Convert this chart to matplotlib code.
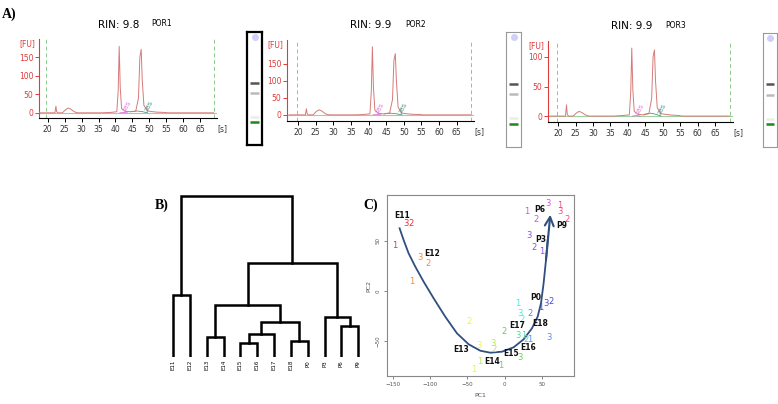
import matplotlib.pyplot as plt
import numpy as np

plt.rcParams['font.family'] = ['DejaVu Sans']

W, H = 778, 404

# ===== A) electropherograms =====
samples = ['POR1', 'POR2', 'POR3']
rin_values = ['9.8', '9.9', '9.9']
fu_ticks = [[0, 50, 100, 150], [0, 50, 100, 150], [0, 50, 100]]
time_ticks = [20, 25, 30, 35, 40, 45, 50, 55, 60, 65]

trace_time = [17.5, 22.1, 22.4, 22.6, 22.9, 24.3, 25.2, 26.0, 26.8, 27.8, 28.8,
              36.0, 38.5, 40.4, 40.8, 41.1, 41.4, 41.8, 42.8, 44.5, 46.0,
              46.8, 47.2, 47.6, 47.9, 48.4, 49.5, 52.0, 54.5, 55.5, 69.0]
trace_por1 = [0, 0, 18, 4, 0, 0, 8, 13, 10, 3, 0,
              0, 1, 3, 60, 180, 70, 12, 4, 3, 5,
              40, 150, 172, 90, 20, 5, 2, 1, 0, 0]
trace_por2 = [0, 0, 18, 4, 0, 0, 10, 15, 11, 3, 0,
              0, 1, 3, 70, 200, 80, 14, 4, 3, 6,
              45, 160, 180, 100, 22, 5, 2, 1, 0, 0]
trace_por3 = [0, 0, 19, 4, 0, 0, 5, 8, 6, 2, 0,
              0, 1, 2, 40, 115, 45, 8, 3, 2, 4,
              30, 100, 112, 60, 14, 4, 2, 1, 0, 0]
traces = [trace_por1, trace_por2, trace_por3]

# axes boxes in pixels: left, right, top, bottom, plus limits
ep_boxes = [(39, 217, 39, 118), (287, 474, 40, 121), (548, 733, 41, 122)]
ep_xlim = [(17.4, 70.0), (16.9, 69.9), (17.1, 70.1)]
ep_ylim = [(-14, 200), (-18, 220), (-10, 127)]

gel_boxes = [(247, 262, 32, 145), (506, 521, 32, 147), (763, 777, 33, 147)]
gel_band_pos = [0.45, 0.54, 0.75, 0.80]
gel_band_colors = ['#555555', '#bbbbbb', '#ececec', '#1a8a1a']

red = '#e03a3a'
trace_col = '#d77a78'

fig = plt.figure(figsize=(W / 100, H / 100), dpi=100)


def fbox(l, r, t, b):
    return [l / W, 1 - b / H, (r - l) / W, (b - t) / H]


for i in range(3):
    l, r, t, b = ep_boxes[i]
    ax = fig.add_axes(fbox(l, r, t, b))
    ax.set_xlim(ep_xlim[i])
    ax.set_ylim(ep_ylim[i])
    ax.axhline(0, color='#9fd09f', lw=0.8, zorder=1)
    ax.axvline(19.6, color='#8cc88c', lw=0.7, ls=(0, (4, 3)))
    ax.axvline(69.1, color='#8cc88c', lw=0.7, ls=(0, (4, 3)))
    ax.plot(trace_time, traces[i], color=trace_col, lw=0.7, zorder=3)
    # small marker lines near the ribosomal peaks
    ax.plot([44.5, 46.5, 48.0, 49.5], [3, 5, 3, 0], color='#3c7f70', lw=0.5)
    ax.plot([41.3, 42.5, 43.5], [0, 1, 0], color='#e070e0', lw=0.6)
    ax.text(43.3, 1, '18S', color='#e070e0', fontsize=4.5, rotation=60,
            ha='center', va='bottom')
    ax.text(49.8, 1, '28S', color='#3c8f80', fontsize=4.5, rotation=60,
            ha='center', va='bottom')
    ax.spines['top'].set_visible(False)
    ax.spines['right'].set_visible(False)
    ax.spines['left'].set_color(red)
    ax.spines['left'].set_linewidth(0.8)
    ax.spines['bottom'].set_linewidth(0.8)
    ax.set_xticks(time_ticks)
    ax.set_yticks(fu_ticks[i])
    ax.tick_params(axis='y', colors=red, labelsize=5.5, length=3, width=0.7, pad=1)
    ax.tick_params(axis='x', labelsize=5.5, length=3, width=0.7, pad=2,
                   labelcolor='#333333')
    ax.text(-0.02, 1.0, '[FU]', transform=ax.transAxes, color=red, fontsize=5.5,
            ha='right', va='top')
    ax.text(1.0, -0.13, '[s]', transform=ax.transAxes, fontsize=5.5,
            color='#333333', ha='left', va='center')
    ax.text(0.45, 1.12, 'RIN: ' + rin_values[i], transform=ax.transAxes,
            fontsize=7.5, ha='center', va='bottom')
    ax.text(0.69, 1.14, samples[i], transform=ax.transAxes, fontsize=5.5,
            ha='center', va='bottom')

    # gel image strip
    gl, gr, gt, gb = gel_boxes[i]
    gax = fig.add_axes(fbox(gl, gr, gt, gb))
    gax.set_xlim(0, 1)
    gax.set_ylim(1, 0)
    gax.set_xticks([])
    gax.set_yticks([])
    for s in gax.spines.values():
        if i == 0:
            s.set_linewidth(1.6)
            s.set_color('black')
        else:
            s.set_linewidth(0.8)
            s.set_color('#999999')
    gax.plot([0.5], [0.045], 'o', color='#cfcff8', ms=4)
    for pos, col in zip(gel_band_pos, gel_band_colors):
        gax.plot([0.22, 0.78], [pos, pos], color=col, lw=1.8,
                 solid_capstyle='butt')

fig.text(2 / W, 1 - 14 / H, 'A)', fontsize=10, fontweight='bold',
         family='Liberation Serif', va='center')

# ===== B) dendrogram =====
leaf_names = ['E11', 'E12', 'E13', 'E14', 'E15', 'E16', 'E17', 'E18',
              'P0', 'P3', 'P6', 'P9']
# merges: (child a, child b, height); new clusters numbered from 12
merges = [(4, 5, 14), (12, 6, 23), (7, 8, 16), (13, 14, 35), (2, 3, 20),
          (16, 15, 52), (10, 11, 31), (9, 18, 40), (17, 19, 94),
          (0, 1, 62), (21, 20, 161)]

dax = fig.add_axes(fbox(164.6, 366.6, 192, 357))
dax.set_xlim(-0.5, 11.5)
dax.set_ylim(0, 165)
dax.axis('off')
pos_x = {k: float(k) for k in range(len(leaf_names))}
pos_h = {k: 0.0 for k in range(len(leaf_names))}
for n, (a, b, h) in enumerate(merges):
    cid = len(leaf_names) + n
    xa, xb = pos_x[a], pos_x[b]
    dax.plot([xa, xa, xb, xb], [pos_h[a], h, h, pos_h[b]], color='black',
             lw=1.8, solid_joinstyle='miter')
    pos_x[cid] = (xa + xb) / 2
    pos_h[cid] = h
for k, name in enumerate(leaf_names):
    dax.text(k, -3, name, rotation=90, fontsize=4, ha='center', va='top')

fig.text(155 / W, 1 - 205 / H, 'B)', fontsize=10, fontweight='bold',
         family='Liberation Serif', va='center')

# ===== C) PCA =====
stages = ['E11', 'E12', 'E13', 'E14', 'E15', 'E16', 'E17', 'E18',
          'P0', 'P3', 'P6', 'P9']
stage_colors = ['#e8303a', '#f08c3a', '#f2f04a', '#b8ea48', '#5ad84a',
                '#48dca0', '#48e8ee', '#4a90f0', '#4848e0', '#9848f0',
                '#e048f0', '#f04888']
rep_stage = [0, 0, 0, 1, 1, 1, 2, 2, 2, 3, 3, 3, 4, 4, 4, 5, 5, 5,
             6, 6, 6, 7, 7, 7, 8, 8, 8, 9, 9, 9, 10, 10, 10, 11, 11, 11]
rep_label = ['1', '3', '2', '3', '2', '1', '2', '3', '1', '3', '2', '1',
             '2', '1', '3', '3', '1', '2', '1', '3', '2', '2', '3', '1',
             '3', '2', '1', '3', '2', '1', '1', '2', '3', '1', '3', '2']
pc1 = [-148, -132, -126, -114, -103, -125, -48, -35, -41, -16, -14, -33,
       -1, -5, 20, 18, 25, 29, 18, 20, 23, 34, 59, 34,
       56, 62, 48, 32, 40, 50, 30, 42, 58, 74, 74, 84]
pc2 = [46, 67, 67, 33, 28, 10, -31, -54, -78, -52, -58, -70,
       -41, -74, -66, -45, -44, -49, -12, -22, -28, -22, -46, -49,
       -12, -10, -17, 56, 44, 39, 80, 72, 88, 86, 79, 71]
label_pc1 = [-138, -98, -58, -17, 9, 31, 17, 48, 41, 48, 47, 76]
label_pc2 = [76, 37, -59, -70, -62, -57, -34, -33, -7, 52, 81, 66]
traj_pc1 = [-141.1, -135.7, -129.0, -120.0, -108.8, -95.4, -79.8, -64.1,
            -48.4, -32.8, -19.4, -3.7, 12.0, 25.4, 36.6, 44.2, 48.7, 52.2,
            55.4, 58.1, 61.2]
traj_pc2 = [62.7, 51.0, 37.7, 24.3, 9.3, -7.3, -25.7, -42.3, -53.3, -59.7,
            -61.7, -60.7, -56.3, -48.3, -37.3, -25.7, -12.3, 7.7, 31.0,
            54.3, 74.3]

pax = fig.add_axes(fbox(387, 574, 195, 376))
pax.set_xlim(-158, 93)
pax.set_ylim(-85, 96)
for s in pax.spines.values():
    s.set_color('#888888')
    s.set_linewidth(0.8)
pax.set_xticks([-150, -100, -50, 0, 50])
pax.set_yticks([-50, 0, 50])
pax.tick_params(labelsize=4, length=2.5, width=0.5, colors='#555555', pad=2)
for lab in pax.get_yticklabels():
    lab.set_rotation(90)
    lab.set_va('center')
pax.set_xlabel('PC1', fontsize=4.5, color='#555555', labelpad=4)
pax.set_ylabel('PC2', fontsize=4.5, color='#555555', labelpad=3)

pax.plot(traj_pc1[:-1], traj_pc2[:-1], color='#2f4f7f', lw=1.3)
pax.annotate('', xy=(traj_pc1[-1], traj_pc2[-1] + 2),
             xytext=(traj_pc1[-3], traj_pc2[-3]),
             arrowprops=dict(arrowstyle='->', color='#2f4f7f', lw=1.5,
                             mutation_scale=16, shrinkA=0, shrinkB=0))
for x, y, st, lab in zip(pc1, pc2, rep_stage, rep_label):
    pax.text(x, y, lab, color=stage_colors[st], fontsize=6, ha='center',
             va='center')
for x, y, name in zip(label_pc1, label_pc2, stages):
    pax.text(x, y, name, fontsize=5.5, fontweight='bold', ha='center',
             va='center', color='#111111')

fig.text(363 / W, 1 - 205 / H, 'C)', fontsize=10, fontweight='bold',
         family='Liberation Serif', va='center')

fig.savefig('out.png', dpi=100)
